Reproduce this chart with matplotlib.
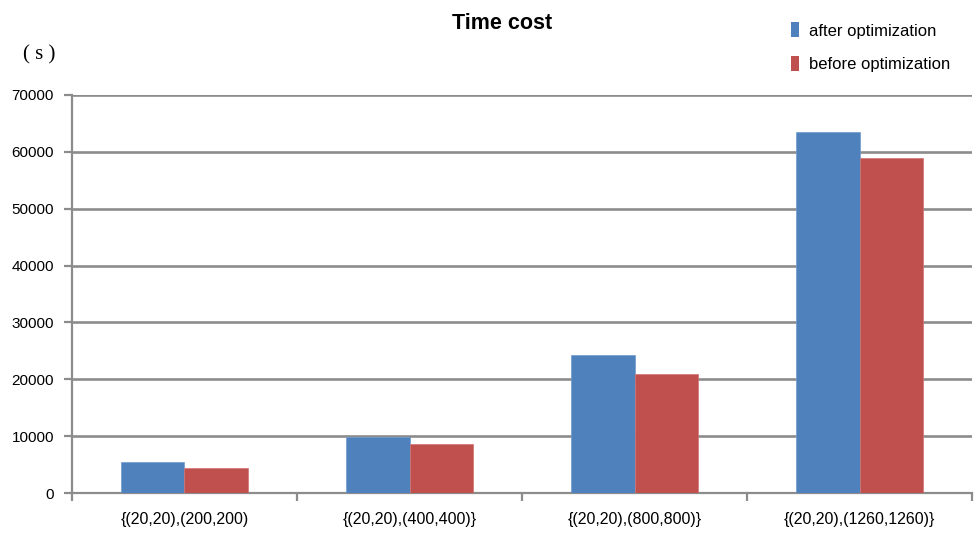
import matplotlib
matplotlib.use("Agg")
import matplotlib.pyplot as plt
from matplotlib.patches import Patch
import numpy as np

categories = ["{(20,20),(200,200)", "{(20,20),(400,400)}", "{(20,20),(800,800)}", "{(20,20),(1260,1260)}"]
after_opt = [5500, 9900, 24200, 63500]
before_opt = [4450, 8700, 20900, 59000]
series_names = ["after optimization", "before optimization"]
yticks = [0, 10000, 20000, 30000, 40000, 50000, 60000, 70000]

FONT = ["Liberation Sans", "DejaVu Sans"]
plt.rcParams["font.family"] = FONT

blue = "#4F81BD"
red = "#C0504D"
grid_c = "#8C8C8C"

fig = plt.figure(figsize=(9.78, 5.37), dpi=100)
ax = fig.add_axes([0.0736, 0.0819, 0.9203, 0.7412])

x = np.arange(len(categories))
w = 0.284
ax.bar(x - w / 2, after_opt, width=w, color=blue, edgecolor="#6d9bd0", linewidth=0.5, zorder=3)
ax.bar(x + w / 2, before_opt, width=w, color=red, edgecolor="#d27471", linewidth=0.5, zorder=3)

ax.set_xlim(-0.5, len(categories) - 0.5)
ax.set_ylim(0, 70000)
ax.set_yticks(yticks)
ax.set_yticklabels([str(v) for v in yticks], fontsize=11)
ax.yaxis.grid(True, color=grid_c, linewidth=1.9, zorder=0)
ax.set_axisbelow(True)

ax.set_xticks(x)
ax.set_xticklabels(categories, fontsize=11.5)
ax.set_xticks(np.arange(len(categories) + 1) - 0.5, minor=True)
ax.tick_params(axis="x", which="major", length=0, pad=14)
ax.tick_params(axis="x", which="minor", length=6, width=1.6, color=grid_c, direction="out")
ax.tick_params(axis="y", length=6, width=1.6, color=grid_c, direction="out", pad=7)

for s in ["top", "right"]:
    ax.spines[s].set_visible(False)
for s in ["left", "bottom"]:
    ax.spines[s].set_color(grid_c)
    ax.spines[s].set_linewidth(1.6)

fig.text(0.513, 0.957, "Time cost", ha="center", va="center", fontsize=15.5, fontweight="bold")
fig.text(0.04, 0.897, "( s )", ha="center", va="center", fontsize=15, family=["Liberation Serif", "DejaVu Serif"])

handles = [Patch(facecolor=blue), Patch(facecolor=red)]
leg = fig.legend(handles, series_names, loc="upper left", bbox_to_anchor=(0.797, 0.98),
                 frameon=False, fontsize=12, handlelength=0.45, handleheight=1.0,
                 handletextpad=0.6, labelspacing=1.05, borderpad=0.2)

fig.savefig("out.png", dpi=100)
